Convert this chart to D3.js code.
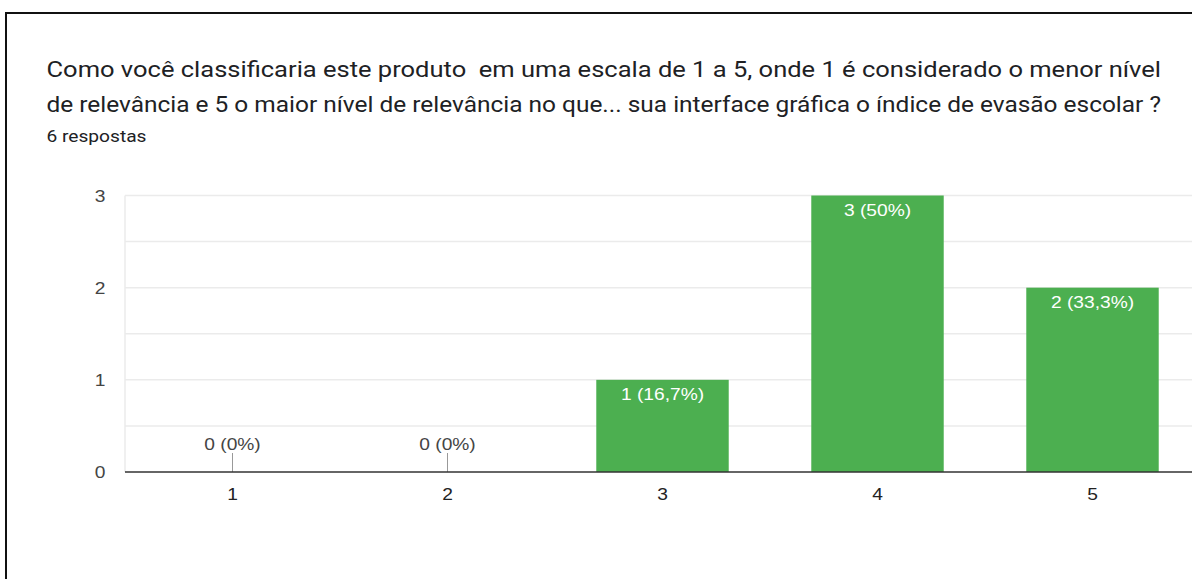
<!DOCTYPE html>
<html>
<head>
<meta charset="utf-8">
<script src="https://cdn.jsdelivr.net/npm/d3@7"></script>
<style>
  html, body { margin: 0; padding: 0; background: #fff; }
  svg { display: block; }
  text { white-space: pre; }
</style>
</head>
<body>
<svg id="chart" width="1192" height="579"></svg>
<script>
// ---- data ----
const titleLines = [
  "Como você classificaria este produto  em uma escala de 1 a 5, onde 1 é considerado o menor nível",
  "de relevância e 5 o maior nível de relevância no que... sua interface gráfica o índice de evasão escolar ?"
];
const subtitle = "6 respostas";
const categories = ["1", "2", "3", "4", "5"];
const counts = [0, 0, 1, 3, 2];
const barLabels = ["0 (0%)", "0 (0%)", "1 (16,7%)", "3 (50%)", "2 (33,3%)"];
const yTicks = [0, 1, 2, 3];
const yGridTicks = [0, 0.5, 1, 1.5, 2, 2.5, 3];

// ---- layout ----
const svg = d3.select("#chart");
const W = 1192, H = 579;
const sx = 1.2; // horizontal stretch of the source screenshot

// frame
svg.append("path")
  .attr("d", "M6," + H + " L6,13 L" + W + ",13")
  .attr("fill", "none").attr("stroke", "#111").attr("stroke-width", 2);

// title
const titleBase = [76.5, 112];
titleLines.forEach((t, i) => {
  svg.append("text")
    .attr("x", 46.5).attr("y", titleBase[i])
    .attr("font-family", "Roboto, sans-serif")
    .attr("font-size", 22.5)
    .attr("fill", "#202124")
    .attr("textLength", 1161 - 46.5)
    .attr("lengthAdjust", "spacingAndGlyphs")
    .text(t);
});
svg.append("text")
  .attr("x", 46.5).attr("y", 142)
  .attr("font-family", "Roboto, sans-serif")
  .attr("font-size", 16)
  .attr("fill", "#202124")
  .attr("textLength", 100)
  .attr("lengthAdjust", "spacingAndGlyphs")
  .text(subtitle);

// scales
const plotLeft = 125;
const step = 215;
const x = d3.scaleBand()
  .domain(categories)
  .range([plotLeft, plotLeft + step * categories.length])
  .paddingInner(0.384)
  .paddingOuter(0.192);
const y = d3.scaleLinear().domain([0, 3]).range([472, 195.5]);

// gridlines
svg.append("g").selectAll("line").data(yGridTicks.filter(d => d > 0)).join("line")
  .attr("x1", plotLeft).attr("x2", W)
  .attr("y1", d => y(d)).attr("y2", d => y(d))
  .attr("stroke", "#ebebeb").attr("stroke-width", 1.5);
svg.append("line")
  .attr("x1", plotLeft).attr("x2", plotLeft)
  .attr("y1", y(3)).attr("y2", y(0))
  .attr("stroke", "#ebebeb").attr("stroke-width", 1.5);

// bars
svg.append("g").selectAll("rect").data(counts).join("rect")
  .attr("x", (d, i) => x(categories[i]))
  .attr("width", x.bandwidth())
  .attr("y", d => y(d))
  .attr("height", d => y(0) - y(d))
  .attr("fill", "#4caf50");

// zero-value leader ticks
counts.forEach((d, i) => {
  if (d === 0) {
    const cx = x(categories[i]) + x.bandwidth() / 2;
    svg.append("line")
      .attr("x1", cx).attr("x2", cx)
      .attr("y1", y(0) - 19).attr("y2", y(0))
      .attr("stroke", "#999").attr("stroke-width", 1);
  }
});

// baseline
svg.append("line")
  .attr("x1", plotLeft).attr("x2", W)
  .attr("y1", y(0)).attr("y2", y(0))
  .attr("stroke", "#333").attr("stroke-width", 1.6);

function stretchedText(px, py, str, opts) {
  const g = svg.append("g").attr("transform", `translate(${px},${py}) scale(${sx},1)`);
  g.append("text")
    .attr("x", 0).attr("y", 0)
    .attr("text-anchor", opts.anchor || "middle")
    .attr("font-family", "'Liberation Sans', Arial, sans-serif")
    .attr("font-size", opts.size || 16)
    .attr("fill", opts.fill || "#444")
    .text(str);
}

// bar labels
counts.forEach((d, i) => {
  const cx = x(categories[i]) + x.bandwidth() / 2;
  if (d === 0) {
    stretchedText(cx, y(0) - 22, barLabels[i], { fill: "#444" });
  } else {
    stretchedText(cx, y(d) + 20, barLabels[i], { fill: "#ffffff" });
  }
});

// y-axis labels
yTicks.forEach(t => {
  stretchedText(100, y(t) + 6, String(t), { fill: "#444" });
});

// x-axis labels
categories.forEach(c => {
  stretchedText(x(c) + x.bandwidth() / 2, 500, c, { fill: "#222" });
});
</script>
</body>
</html>
